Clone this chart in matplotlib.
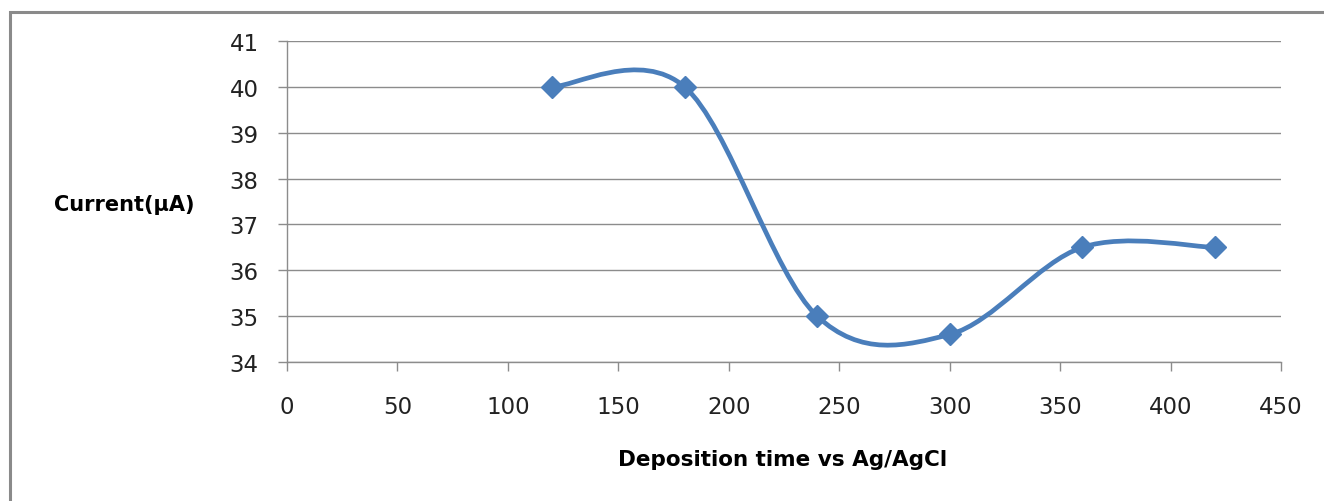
import matplotlib
matplotlib.use("Agg")
import matplotlib.pyplot as plt
from matplotlib.path import Path
from matplotlib.patches import PathPatch, Rectangle
import numpy as np

plt.rcParams['font.family'] = ['DejaVu Sans']

# deposition time (s) and measured peak current (uA)
dep_time = [120, 180, 240, 300, 360, 420]
current = [40.0, 40.0, 35.0, 34.6, 36.5, 36.5]

x_ticks = [0, 50, 100, 150, 200, 250, 300, 350, 400, 450]
y_ticks = [34, 35, 36, 37, 38, 39, 40, 41]

blue = "#4A7EBB"
grey = "#8C8C8C"


def smooth_path(xs, ys):
    # spreadsheet-style smoothed line: cubic bezier through every point
    pts = np.column_stack([xs, ys]).astype(float)
    n = len(pts)
    verts = [pts[0]]
    codes = [Path.MOVETO]
    for i in range(n - 1):
        p0 = pts[i - 1] if i > 0 else pts[i]
        p1 = pts[i]
        p2 = pts[i + 1]
        p3 = pts[i + 2] if i + 2 < n else pts[i + 1]
        c1 = p1 + (p2 - p0) / 6.0
        c2 = p2 - (p3 - p1) / 6.0
        verts += [c1, c2, p2]
        codes += [Path.CURVE4] * 3
    return Path(verts, codes)


fig = plt.figure(figsize=(13.24, 5.02), dpi=100)
ax = fig.add_axes([287 / 1324, 1 - 363 / 502, (1281 - 287) / 1324, (363 - 42) / 502])

ax.add_patch(PathPatch(smooth_path(dep_time, current), facecolor="none",
                       edgecolor=blue, lw=3.4, capstyle="round", zorder=3))
ax.plot(dep_time, current, ls="none", marker="D", ms=11.5, color=blue, zorder=4)

ax.set_xlim(0, 450)
ax.set_ylim(34, 41)
ax.set_xticks(x_ticks)
ax.set_yticks(y_ticks)
ax.grid(axis="y", color=grey, lw=1.0)
ax.set_axisbelow(True)

for s in ["top", "right"]:
    ax.spines[s].set_visible(False)
for s in ["left", "bottom"]:
    ax.spines[s].set_color(grey)
    ax.spines[s].set_linewidth(1.0)

ax.tick_params(axis="both", direction="out", length=6.5, width=1.0, color=grey,
               labelsize=16.5, labelcolor="#222222")
ax.tick_params(axis="y", pad=14)
ax.tick_params(axis="x", pad=17)

ax.set_ylabel("Current(\u03bcA)", rotation=0, fontsize=15, fontweight="bold",
              ha="center", va="center")
ax.yaxis.set_label_coords(-0.164, 0.492)
ax.set_xlabel("Deposition time vs Ag/AgCl", fontsize=15.5, fontweight="bold",
              ha="center", va="center")
ax.xaxis.set_label_coords(0.499, -0.302)

# chart frame, only its top and left edges fall inside the image
top = 1 - 13 / 502
fig.patches.append(Rectangle((10 / 1324, -0.1), 1.2, top + 0.1,
                             transform=fig.transFigure, fill=False,
                             edgecolor="#8A8A8A", lw=2.2))

fig.savefig("out.png", dpi=100)
